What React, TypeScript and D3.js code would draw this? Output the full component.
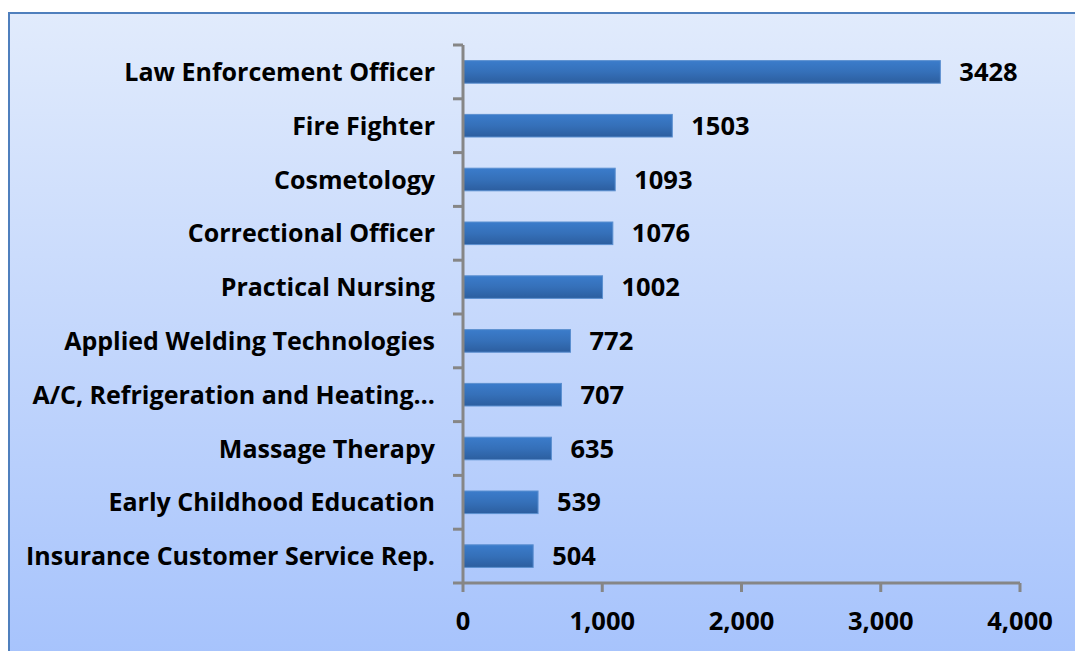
import React from "react";
import * as d3 from "d3";

const categories = [
  "Law Enforcement Officer",
  "Fire Fighter",
  "Cosmetology",
  "Correctional Officer",
  "Practical Nursing",
  "Applied Welding Technologies",
  "A/C, Refrigeration and Heating…",
  "Massage Therapy",
  "Early Childhood Education",
  "Insurance Customer Service Rep.",
];
const values = [3428, 1503, 1093, 1076, 1002, 772, 707, 635, 539, 504];
const xTicks = [0, 1000, 2000, 3000, 4000];

const W = 1075;
const H = 651;
const FONT = "'Open Sans', Lato, sans-serif";

export default function App() {
  const x = d3.scaleLinear().domain([0, 4000]).range([463, 1020]);
  const y = d3.scaleBand().domain(categories).range([45, 583]).paddingInner(0.58).paddingOuter(0.29);
  const bandEdges = d3.range(categories.length + 1).map((i) => 45 + (i * (583 - 45)) / categories.length);
  const fmt = d3.format(",");
  return (
    <svg width={W} height={H} style={{ position: "absolute", left: 0, top: 0 }} fontFamily={FONT}>
      <defs>
        <linearGradient id="bg" x1="0" y1="0" x2="0" y2="1">
          <stop offset="0" stopColor="#e1ebfc" />
          <stop offset="1" stopColor="#a5c2fc" />
        </linearGradient>
        <linearGradient id="bar" x1="0" y1="0" x2="0" y2="1">
          <stop offset="0" stopColor="#3b7ccb" />
          <stop offset="0.5" stopColor="#3570b9" />
          <stop offset="1" stopColor="#2c5e9f" />
        </linearGradient>
      </defs>
      <rect x={9} y={13} width={W + 10} height={H + 10} fill="url(#bg)" stroke="#4f7fbd" strokeWidth={2} />
      {categories.map((c, i) => (
        <g key={c}>
          <rect
            x={x(0)}
            y={y(c)}
            width={x(values[i]) - x(0)}
            height={y.bandwidth()}
            fill="url(#bar)"
            stroke="#5b8fd0"
            strokeWidth={1}
          />
          <text
            x={x(values[i]) + 19}
            y={y(c)! + y.bandwidth() / 2}
            dy="0.36em"
            fontSize={25.5}
            fontWeight="bold"
            fill="#000"
          >
            {values[i]}
          </text>
          <text
            x={435}
            y={y(c)! + y.bandwidth() / 2}
            dy="0.36em"
            textAnchor="end"
            fontSize={25}
            fontWeight="bold"
            fill="#000"
          >
            {c}
          </text>
        </g>
      ))}
      {/* y axis */}
      <line x1={x(0)} x2={x(0)} y1={45} y2={583} stroke="#868686" strokeWidth={3} />
      {bandEdges.map((b, i) => (
        <line key={i} x1={453} x2={x(0)} y1={b} y2={b} stroke="#868686" strokeWidth={3} />
      ))}
      {/* x axis */}
      <line x1={x(0)} x2={x(4000)} y1={583} y2={583} stroke="#868686" strokeWidth={3} />
      {xTicks.map((t) => (
        <g key={t}>
          <line x1={x(t)} x2={x(t)} y1={583} y2={592} stroke="#868686" strokeWidth={3} />
          <text x={x(t)} y={621} dy="0.36em" textAnchor="middle" fontSize={25.5} fontWeight="bold" fill="#000">
            {fmt(t)}
          </text>
        </g>
      ))}
    </svg>
  );
}
